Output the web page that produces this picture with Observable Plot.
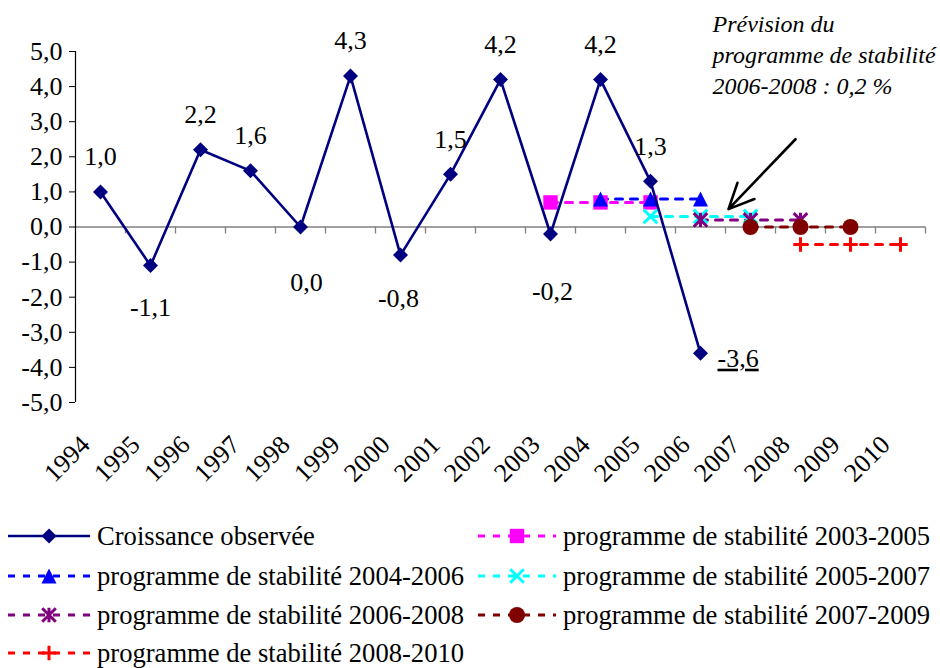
<!DOCTYPE html>
<html><head><meta charset="utf-8">
<script src="https://cdn.jsdelivr.net/npm/d3@7"></script>
<script src="https://cdn.jsdelivr.net/npm/@observablehq/plot@0.6"></script>
<style>
body{margin:0;background:#fff;}
#chart{width:940px;height:668px;position:relative;overflow:hidden;background:#fff;font-family:"Liberation Serif","Times New Roman",serif;}
#chart svg{display:block;}
</style></head><body><div id="chart"></div>
<script>
// ---- data ----
const years = [1994,1995,1996,1997,1998,1999,2000,2001,2002,2003,2004,2005,2006,2007,2008,2009,2010];
const yTicks = [-5,-4,-3,-2,-1,0,1,2,3,4,5];
const observedName = "Croissance observée";
const observedYears = [1994,1995,1996,1997,1998,1999,2000,2001,2002,2003,2004,2005,2006];
const observedValues = [1.0,-1.1,2.2,1.6,0.0,4.3,-0.8,1.5,4.2,-0.2,4.2,1.3,-3.6];
const programmeNames = [
  "programme de stabilité 2003-2005",
  "programme de stabilité 2004-2006",
  "programme de stabilité 2005-2007",
  "programme de stabilité 2006-2008",
  "programme de stabilité 2007-2009",
  "programme de stabilité 2008-2010"
];
const programmeYears = [
  [2003,2004,2005],
  [2004,2005,2006],
  [2005,2006,2007],
  [2006,2007,2008],
  [2007,2008,2009],
  [2008,2009,2010]
];
const programmeValues = [
  [0.7,0.7,0.7],
  [0.8,0.8,0.8],
  [0.3,0.3,0.3],
  [0.2,0.2,0.2],
  [0.0,0.0,0.0],
  [-0.5,-0.5,-0.5]
];
const annotationText = "Prévision du\nprogramme de stabilité\n2006-2008 : 0,2 %";
const annotationAt = [2006.24, 4.96];
const arrowFrom = [2007.9, 2.5];
const arrowTo = [2006.56, 0.51];

// ---- styles ----
const rOf = s => Math.sqrt(s / Math.PI);
const symDiamond = {draw(c, s){const r = rOf(s); c.moveTo(0,-r); c.lineTo(r,0); c.lineTo(0,r); c.lineTo(-r,0); c.closePath();}};
const symSquare = {draw(c, s){const r = rOf(s); c.moveTo(-r,-r); c.lineTo(r,-r); c.lineTo(r,r); c.lineTo(-r,r); c.closePath();}};
const symTriangle = {draw(c, s){const r = rOf(s); c.moveTo(0,-r); c.lineTo(r,r); c.lineTo(-r,r); c.closePath();}};
const symTimes = {draw(c, s){const r = rOf(s); c.moveTo(-r,-r); c.lineTo(r,r); c.moveTo(r,-r); c.lineTo(-r,r);}};
const symStar = {draw(c, s){const r = rOf(s); c.moveTo(-r,-r); c.lineTo(r,r); c.moveTo(r,-r); c.lineTo(-r,r); c.moveTo(0,-r*1.05); c.lineTo(0,r*1.05);}};
const symCircle = {draw(c, s){const r = rOf(s); c.moveTo(r,0); c.arc(0,0,r,0,2*Math.PI); c.closePath();}};
const symPlus = {draw(c, s){const r = rOf(s); c.moveTo(-r,0); c.lineTo(r,0); c.moveTo(0,-r); c.lineTo(0,r);}};

const obsStyle = {color: "#000080", symbol: symDiamond, r: 7.5, filled: true};
const progStyles = [
  {color: "#FF00FF", symbol: symSquare, r: 7.2, filled: true},
  {color: "#0000FF", symbol: symTriangle, r: 7.5, filled: true},
  {color: "#00FFFF", symbol: symTimes, r: 6.8, filled: false},
  {color: "#800080", symbol: symStar, r: 6.8, filled: false},
  {color: "#800000", symbol: symCircle, r: 8, filled: true},
  {color: "#FF0000", symbol: symPlus, r: 7.2, filled: false}
];
const DASH = "7,8";
const fmt = v => v.toFixed(1).replace(".", ",");

// ---- tables ----
const observedRows = observedYears.map((yr, i) => ({year: yr, value: observedValues[i]}));
const programmeRows = programmeNames.map((name, k) =>
  programmeYears[k].map((yr, i) => ({series: name, year: yr, value: programmeValues[k][i]})));
const bandEdges = [...years.map(y => y - 0.5), years[years.length - 1] + 0.5];

// data label placement (pixel offsets)
const labelOffset = {1995: [0, 42], 1998: [6, 56], 2000: [-2, 44], 2003: [2, 58]};

const marks = [];
marks.push(Plot.ruleY([0], {stroke: "#808080", strokeWidth: 1.6}));
marks.push(Plot.ruleX(bandEdges.slice(1), {x: d => d, y1: 0, y2: 0, insetBottom: -7, stroke: "#808080", strokeWidth: 1.3}));
marks.push(Plot.ruleX([bandEdges[0]], {x: d => d, stroke: "#000", strokeWidth: 1.2}));

programmeRows.forEach((rows, k) => {
  const st = progStyles[k];
  marks.push(Plot.line(rows, {x: "year", y: "value", stroke: st.color, strokeWidth: 3, strokeDasharray: DASH}));
});
programmeRows.forEach((rows, k) => {
  const st = progStyles[k];
  marks.push(Plot.dot(rows, st.filled
    ? {x: "year", y: "value", symbol: st.symbol, r: st.r, fill: st.color, stroke: "none"}
    : {x: "year", y: "value", symbol: st.symbol, r: st.r, fill: "none", stroke: st.color, strokeWidth: 3}));
});
marks.push(Plot.line(observedRows, {x: "year", y: "value", stroke: obsStyle.color, strokeWidth: 2.6}));
marks.push(Plot.dot(observedRows, {x: "year", y: "value", symbol: obsStyle.symbol, r: obsStyle.r, fill: obsStyle.color, stroke: "none"}));

observedRows.forEach((d, i) => {
  const last = i === observedRows.length - 1;
  if (last) {
    marks.push(Plot.text([d], {x: "year", y: "value", text: dd => fmt(dd.value), textAnchor: "start", lineAnchor: "middle", dx: 17, dy: 5, fill: "#000"}));
  } else {
    const off = labelOffset[d.year] || [0, -35];
    marks.push(Plot.text([d], {x: "year", y: "value", text: dd => fmt(dd.value), textAnchor: "middle", lineAnchor: "middle", dx: off[0], dy: off[1], fill: "#000"}));
  }
});

// x tick labels
marks.push(Plot.text(years, {x: d => d, frameAnchor: "bottom", text: d => String(d), rotate: -45, textAnchor: "end", lineAnchor: "middle", dx: -15, dy: 38, fill: "#000"}));

// annotation
marks.push(Plot.text([annotationText], {x: () => annotationAt[0], y: () => annotationAt[1], text: d => d, textAnchor: "start", lineAnchor: "middle", fontStyle: "italic", fontSize: 24, lineHeight: 1.3, fill: "#000"}));
marks.push(Plot.arrow([{x1: arrowFrom[0], y1: arrowFrom[1], x2: arrowTo[0], y2: arrowTo[1]}], {x1: "x1", y1: "y1", x2: "x2", y2: "y2", stroke: "#000", strokeWidth: 2.6, headLength: 16, headAngle: 50}));

const plot = Plot.plot({
  width: 940,
  height: 505,
  marginLeft: 75,
  marginRight: 15,
  marginTop: 51,
  marginBottom: 103,
  x: {domain: [bandEdges[0], bandEdges[bandEdges.length - 1]], axis: null},
  y: {domain: [-5, 5], ticks: yTicks, tickFormat: fmt, tickSize: 6, tickPadding: 7, label: null},
  style: {fontFamily: "'Liberation Serif','Times New Roman',serif", fontSize: "26px", background: "white", overflow: "visible", color: "#000"},
  marks
});

d3.select(plot).selectAll("text").filter(function(){ return this.textContent === "-3,6"; })
  .style("text-decoration", "underline");

const chart = document.getElementById("chart");
chart.appendChild(plot);

// ---- legend ----
const legendEntries = [
  {name: observedName, style: obsStyle, dashed: false, col: 0, row: 0},
  {name: programmeNames[1], style: progStyles[1], dashed: true, col: 0, row: 1},
  {name: programmeNames[3], style: progStyles[3], dashed: true, col: 0, row: 2},
  {name: programmeNames[5], style: progStyles[5], dashed: true, col: 0, row: 3},
  {name: programmeNames[0], style: progStyles[0], dashed: true, col: 1, row: 0},
  {name: programmeNames[2], style: progStyles[2], dashed: true, col: 1, row: 1},
  {name: programmeNames[4], style: progStyles[4], dashed: true, col: 1, row: 2}
];
const colLayout = [{x0: 8, x1: 90, tx: 97}, {x0: 478, x1: 556, tx: 563}];
const rowY = [31, 71, 110, 148];
const legend = d3.select(chart).append("svg").attr("width", 940).attr("height", 163)
  .style("font-family", "'Liberation Serif','Times New Roman',serif").style("font-size", "26.6px");
legendEntries.forEach(e => {
  const c = colLayout[e.col], y = rowY[e.row], st = e.style;
  const g = legend.append("g");
  g.append("line").attr("x1", c.x0).attr("x2", c.x1).attr("y1", y).attr("y2", y)
    .attr("stroke", st.color).attr("stroke-width", e.dashed ? 3 : 2.6)
    .attr("stroke-dasharray", e.dashed ? DASH : null);
  const mx = (c.x0 + c.x1) / 2;
  const path = d3.symbol(st.symbol, Math.PI * st.r * st.r)();
  const p = g.append("path").attr("d", path).attr("transform", `translate(${mx},${y})`);
  if (st.filled) p.attr("fill", st.color).attr("stroke", "none");
  else p.attr("fill", "none").attr("stroke", st.color).attr("stroke-width", 3);
  g.append("text").attr("x", c.tx).attr("y", y).attr("dy", "0.33em").attr("fill", "#000").text(e.name);
});
</script></body></html>
